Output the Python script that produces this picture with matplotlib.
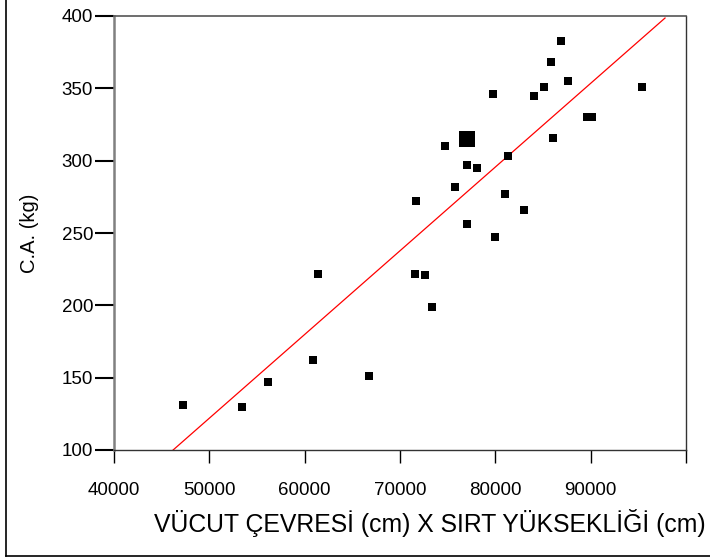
import matplotlib.pyplot as plt
from matplotlib.lines import Line2D

plt.rcParams['font.family'] = ['Liberation Sans', 'DejaVu Sans']

# data
x_vals = [86900, 85850, 87600, 85100, 79800, 84100, 95400, 89600, 90150,
          86100, 74750, 81300, 77050, 78100, 75750, 71700, 81000, 83000,
          77000, 80000, 61350, 71600, 72650, 73400, 60850, 66750, 56200,
          47200, 53400]
y_vals = [383, 368, 355, 351, 346, 345, 351, 330, 330,
          316, 310, 303, 297, 295, 282, 272, 277, 266,
          256, 247, 222, 222, 221, 199, 162, 151, 147,
          131, 130]

# the larger square
big_x = [77050]
big_y = [315]

# regression line end points
fit_x = [46200, 97800]
fit_y = [100, 398.6]

x_ticks = [40000, 50000, 60000, 70000, 80000, 90000, 100000]
x_ticklabels = ['40000', '50000', '60000', '70000', '80000', '90000', '']
y_ticks = [100, 150, 200, 250, 300, 350, 400]

fig = plt.figure(figsize=(7.1, 5.6), dpi=100)
ax = fig.add_axes([114 / 710, 1 - 450 / 560, (686 - 114) / 710, (450 - 16) / 560])

ax.plot(fit_x, fit_y, color='#ff0000', lw=0.9, zorder=2)
ax.scatter(x_vals, y_vals, marker='s', s=26, color='black', zorder=3, linewidths=0)
ax.scatter(big_x, big_y, marker='s', s=135, color='black', zorder=3, linewidths=0)

ax.set_xlim(40000, 100000)
ax.set_ylim(100, 400)
ax.set_xticks(x_ticks)
ax.set_xticklabels(x_ticklabels)
ax.set_yticks(y_ticks)

ax.tick_params(axis='y', direction='out', length=14, width=1.5, colors='black',
               labelsize=13.5, pad=1)
ax.tick_params(axis='x', direction='out', length=9.5, width=1.0, colors='black',
               labelsize=13.5, pad=13.5)

ax.spines['left'].set_color('#808080')
ax.spines['left'].set_linewidth(1.8)
ax.spines['top'].set_color('#555555')
ax.spines['top'].set_linewidth(1.2)
for side in ['bottom', 'right']:
    ax.spines[side].set_color('#333333')
    ax.spines[side].set_linewidth(1.0)

ax.set_ylabel('C.A. (kg)', fontsize=14.5, labelpad=16)
fig.text(430 / 710, 1 - 523 / 560, 'VÜCUT ÇEVRESİ (cm) X SIRT YÜKSEKLİĞİ (cm)',
         fontsize=17.8, ha='center', va='center')

# outer frame lines (left and bottom)
fig.add_artist(Line2D([6 / 710, 6 / 710], [1.0, 1 - 556 / 560],
                      transform=fig.transFigure, color='black', lw=1.2))
fig.add_artist(Line2D([6 / 710, 1.0], [1 - 556 / 560, 1 - 556 / 560],
                      transform=fig.transFigure, color='black', lw=1.2))

fig.savefig('out.png', dpi=100)
